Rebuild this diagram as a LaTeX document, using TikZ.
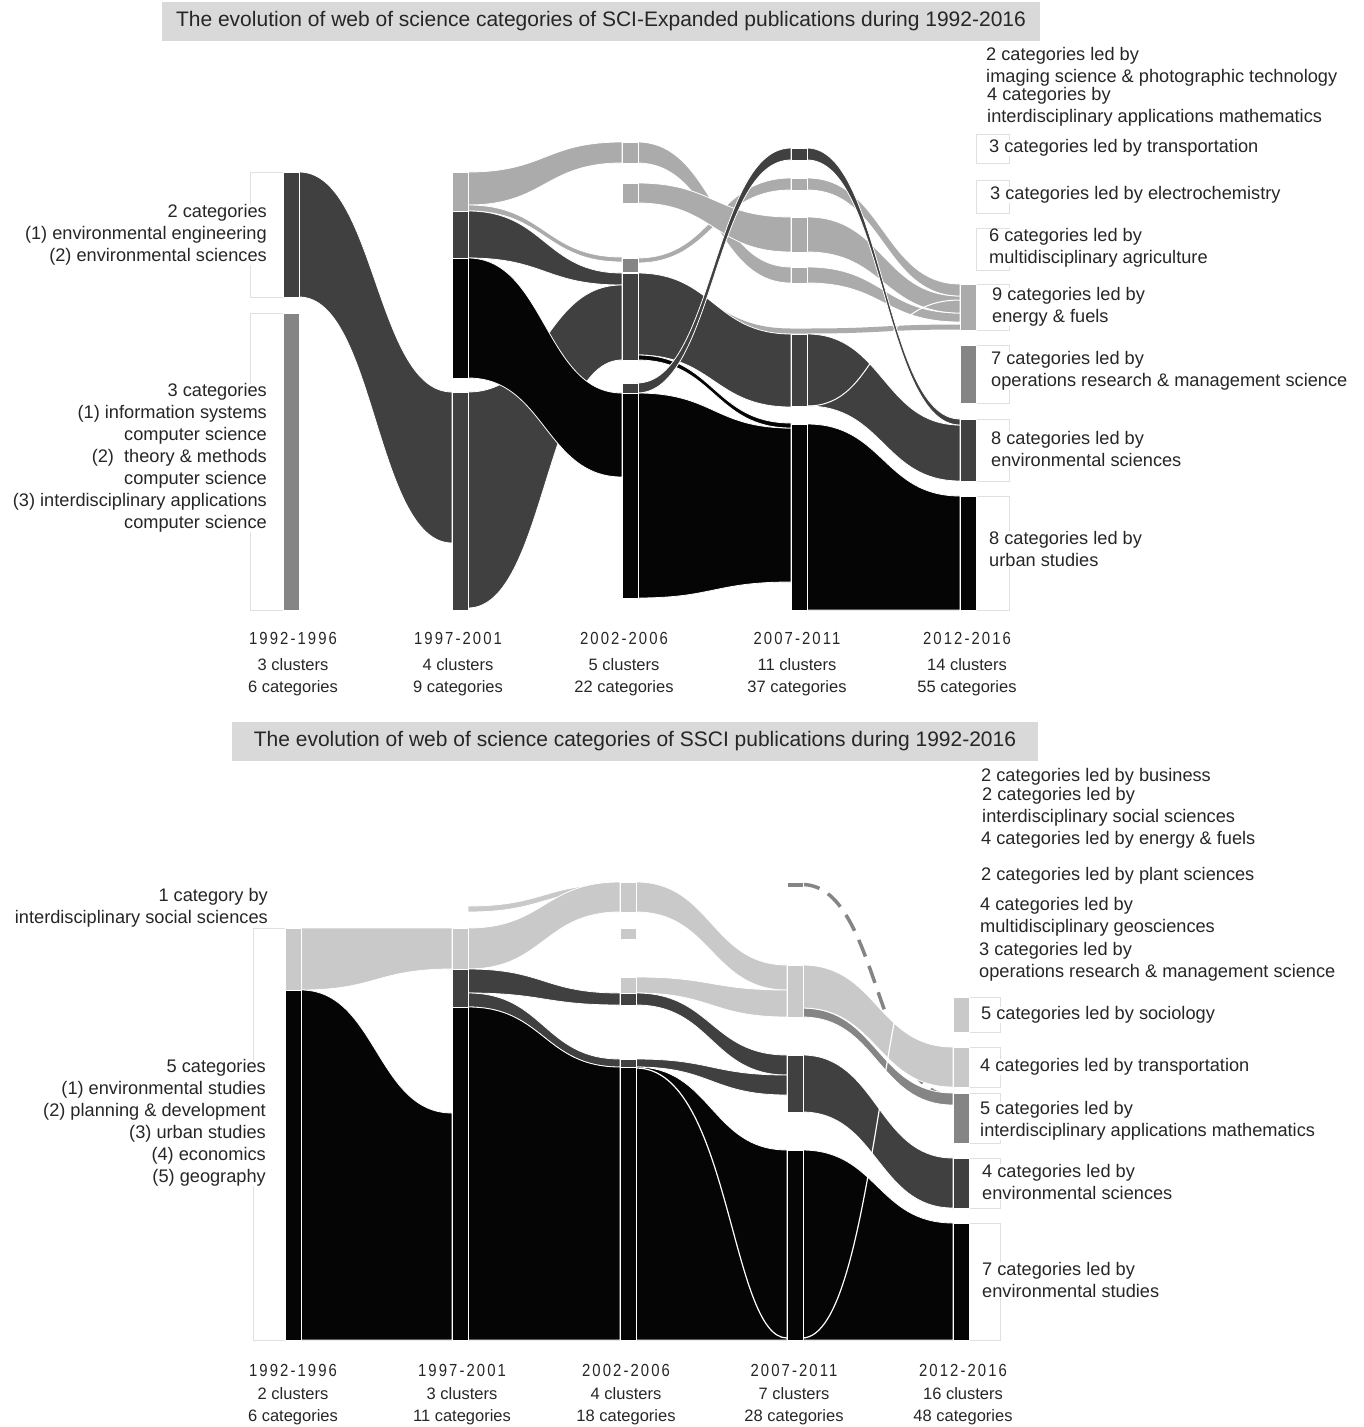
\documentclass[tikz,border=0pt]{standalone}
\usepackage{fontspec}
\setmainfont{Liberation Sans}
\newfontfamily\yearfont[FakeStretch=0.85, LetterSpace=12]{Liberation Sans}

\definecolor{flowblack}{HTML}{050505}
\definecolor{flowdark}{HTML}{404040}
\definecolor{flowmid}{HTML}{858585}
\definecolor{flowlight}{HTML}{ABABAB}
\definecolor{flowpale}{HTML}{C9C9C9}
\definecolor{titlegray}{HTML}{D9D9D9}

\newcommand{\lblsize}{\fontsize{18.2}{22}\selectfont}
\newcommand{\titlesize}{\fontsize{21}{24}\selectfont}
\newcommand{\sumsize}{\fontsize{16.5}{22}\selectfont}
\newcommand{\yearsize}{\yearfont\fontsize{17.5}{20}\selectfont}

% band between two columns: colour, x1, top1, bottom1, x2, top2, bottom2
\newcommand{\flow}[7]{%
  \filldraw[flowedge, fill=#1] (#2,#3) .. controls ({(#2+#5)/2},#3) and ({(#2+#5)/2},#6) .. (#5,#6)
    -- (#5,#7) .. controls ({(#2+#5)/2},#7) and ({(#2+#5)/2},#4) .. (#2,#4) -- cycle;}
% cluster bar: colour, x, top, bottom
\newcommand{\clusterbar}[4]{\filldraw[baredge, fill=#1] (#2,#3) rectangle ({#2+16},#4);}

\begin{document}
\begin{tikzpicture}[x=1pt, y=-1pt,
  flowedge/.style={draw=white, line width=0.8pt},
  baredge/.style={draw=white, line width=0.9pt},
  labelbox/.style={draw=black!12, line width=0.6pt},
  lbl/.style={font=\lblsize, inner sep=0pt, fill=white, text=black!85},
  leftlbl/.style={lbl, anchor=east, align=right},
  rightlbl/.style={lbl, anchor=west, align=left},
  yearlbl/.style={font=\yearsize, inner sep=0pt, text=black!85},
  sumlbl/.style={font=\sumsize, inner sep=0pt, align=center, text=black!85},
  title/.style={fill=titlegray, minimum height=39pt, inner sep=0pt, font=\titlesize, text=black!85}]

\useasboundingbox (0,0) rectangle (1364,1427);

% ---------------- SCI-Expanded ----------------
\node[title, minimum width=878pt] (sciTitle) at (601,21)
  {The evolution of web of science categories of SCI-Expanded publications during 1992-2016};

% label boxes
\draw[labelbox] (283,172) -| (250,297) -- (283,297);
\draw[labelbox] (283,313) -| (250,610) -- (283,610);
\foreach \t/\b in {134/163, 180/213, 228/270, 284/330, 345/403, 419/481, 496/610}
  \draw[labelbox] (976,\t) rectangle (1009,\b);

% 1992-1996 -> 1997-2001
\flow{flowdark}{299}{172}{297}{452}{392}{543}
% 1997-2001 -> 2002-2006
\flow{flowlight}{468}{172}{205}{622}{142}{163}
\flow{flowlight}{468}{205}{211}{622}{257}{262}
\flow{flowdark}{468}{211}{258}{622}{273}{285}
\flow{flowdark}{468}{392}{608}{622}{285}{360}
\flow{flowblack}{468}{258}{378}{622}{393}{477}
% 2002-2006 -> 2007-2011
\draw[flowlight, line width=5pt] (637,285) .. controls (714,285) and (714,331) .. (791,331)
  -- (807,331) .. controls (883,331) and (883,327) .. (960,327);
\flow{flowlight}{637}{258}{263}{791}{178}{190}
\flow{flowlight}{637}{142}{163}{791}{267}{283}
\flow{flowlight}{637}{183}{203}{791}{217}{252}
\flow{flowdark}{637}{273}{355}{791}{334}{407}
\flow{flowblack}{637}{393}{598}{791}{428}{582}
\flow{flowblack}{637}{355}{360}{791}{423}{428}
\flow{flowdark}{637}{383}{393}{791}{148}{160}
% 2007-2011 -> 2012-2016
\flow{flowlight}{807}{267}{283}{960}{313}{322}
\flow{flowlight}{807}{217}{252}{960}{296}{313}
\flow{flowlight}{807}{178}{190}{960}{284}{296}
\flow{flowdark}{807}{334}{406}{960}{425}{481}
\draw[white, line width=1pt] (807,406) .. controls (880,406) and (870,300) .. (960,300);
\flow{flowblack}{807}{424}{610}{960}{496}{610}
\flow{flowdark}{807}{148}{160}{960}{419}{425}

% cluster bars
\foreach \c/\x/\t/\b in {flowdark/283/172/297, flowmid/283/313/610,
    flowlight/452/172/211, flowdark/452/211/258, flowblack/452/258/378, flowdark/452/392/610,
    flowlight/622/142/163, flowlight/622/183/203, flowmid/622/258/272, flowdark/622/273/360,
    flowdark/622/383/393, flowblack/622/393/598,
    flowdark/791/148/160, flowlight/791/178/190, flowlight/791/217/252, flowlight/791/267/283,
    flowdark/791/334/406, flowblack/791/424/610,
    flowlight/960/284/330, flowmid/960/345/403, flowdark/960/419/481, flowblack/960/496/610}
  \clusterbar{\c}{\x}{\t}{\b};

% cluster labels
\node[leftlbl] (sciEnv) at (267,235)
  {2 categories\\(1) environmental engineering\\(2) environmental sciences};
\node[leftlbl] (sciComp) at (267,458)
  {3 categories\\(1) information systems\\computer science\\(2)\ \ theory \& methods\\computer science\\(3) interdisciplinary applications\\computer science};
\node[rightlbl] (sciImg) at (986,67) {2 categories led by\\imaging science \& photographic technology};
\node[rightlbl] (sciMath) at (987,107) {4 categories by\\interdisciplinary applications mathematics};
\node[rightlbl] (sciTrans) at (989,148) {3 categories led by transportation};
\node[rightlbl] (sciElec) at (990,195) {3 categories led by electrochemistry};
\node[rightlbl] (sciAgri) at (989,248) {6 categories led by\\multidisciplinary agriculture};
\node[rightlbl] (sciEnergy) at (992,307) {9 categories led by\\energy \& fuels};
\node[rightlbl] (sciOper) at (991,371) {7 categories led by\\operations research \& management science};
\node[rightlbl] (sciEnvSci) at (991,449) {8 categories led by\\environmental sciences};
\node[rightlbl] (sciUrban) at (989,549) {8 categories led by\\urban studies};

% periods
\foreach \x/\yr/\cl/\ct [count=\i] in {293/1992-1996/3/6, 458/1997-2001/4/9, 624/2002-2006/5/22,
    797/2007-2011/11/37, 967/2012-2016/14/55} {
  \node[yearlbl] (sciYear\i) at (\x,638) {\yr};
  \node[sumlbl] (sciSum\i) at (\x,677) {\cl\ clusters\\\ct\ categories};
}

% ---------------- SSCI ----------------
\node[title, minimum width=806pt] (ssciTitle) at (635,741)
  {The evolution of web of science categories of SSCI publications during 1992-2016};

\draw[labelbox] (285,928) -| (253,1340) -- (285,1340);
\foreach \t/\b in {997/1032, 1047/1087, 1093/1143, 1158/1208, 1223/1340}
  \draw[labelbox] (968,\t) rectangle (1000,\b);

% 1992-1996 -> 1997-2001
\flow{flowpale}{301}{928}{990}{452}{928}{969}
\flow{flowblack}{301}{990}{1340}{452}{1113}{1340}
% 1997-2001 -> 2002-2006
\flow{flowpale}{468}{906}{912}{620}{884}{890}
\flow{flowpale}{468}{928}{969}{620}{882}{912}
\flow{flowdark}{468}{969}{993}{620}{993}{1005}
\flow{flowdark}{468}{993}{1007}{620}{1059}{1067}
\flow{flowblack}{468}{1007}{1340}{620}{1067}{1340}
% 2002-2006 -> 2007-2011
\flow{flowpale}{636}{882}{912}{787}{965}{990}
\flow{flowpale}{636}{977}{993}{787}{990}{1017}
\flow{flowdark}{636}{993}{1005}{787}{1055}{1075}
\flow{flowdark}{636}{1059}{1067}{787}{1075}{1095}
\flow{flowblack}{636}{1067}{1340}{787}{1150}{1340}
\draw[white, line width=1.2pt] (636,1068) .. controls (730,1068) and (730,1338) .. (787,1338);
% 2007-2011 -> 2012-2016
\draw[flowmid, line width=3.5pt, dash pattern=on 18pt off 10pt] (802,884.5) .. controls (880,884.5) and (875,1096) .. (953,1096);
\flow{flowmid}{802}{1008}{1017}{953}{1093}{1105}
\flow{flowpale}{802}{965}{1008}{953}{1047}{1087}
\flow{flowdark}{802}{1055}{1112}{953}{1158}{1208}
\flow{flowblack}{802}{1150}{1340}{953}{1223}{1340}
\draw[white, line width=1.2pt] (802,1338) .. controls (880,1338) and (880,880) .. (953,880);

% cluster bars
\foreach \c/\x/\t/\b in {flowpale/285/928/990, flowblack/285/990/1340,
    flowpale/452/928/969, flowdark/452/969/1007, flowblack/452/1007/1340,
    flowpale/620/882/912, flowpale/620/928/939, flowpale/620/977/993, flowdark/620/993/1005,
    flowdark/620/1059/1067, flowblack/620/1067/1340,
    flowmid/787/882/887, flowpale/787/965/1017, flowdark/787/1055/1112, flowblack/787/1150/1340,
    flowpale/953/997/1032, flowpale/953/1047/1087, flowmid/953/1093/1143,
    flowdark/953/1158/1208, flowblack/953/1223/1340}
  \clusterbar{\c}{\x}{\t}{\b};

% cluster labels
\node[leftlbl] (ssciSoc) at (268,908) {1 category by\\interdisciplinary social sciences};
\node[leftlbl] (ssciUrban) at (266,1123)
  {5 categories\\(1) environmental studies\\(2) planning \& development\\(3) urban studies\\(4) economics\\(5) geography};
\node[rightlbl] (ssciBus) at (981,777) {2 categories led by business};
\node[rightlbl] (ssciSocSci) at (982,807) {2 categories led by\\interdisciplinary social sciences};
\node[rightlbl] (ssciEnergy) at (981,840) {4 categories led by energy \& fuels};
\node[rightlbl] (ssciPlant) at (981,876) {2 categories led by plant sciences};
\node[rightlbl] (ssciGeo) at (980,917) {4 categories led by\\multidisciplinary geosciences};
\node[rightlbl] (ssciOper) at (979,962) {3 categories led by\\operations research \& management science};
\node[rightlbl] (ssciSocio) at (981,1015) {5 categories led by sociology};
\node[rightlbl] (ssciTrans) at (980,1067) {4 categories led by transportation};
\node[rightlbl] (ssciMath) at (980,1121) {5 categories led by\\interdisciplinary applications mathematics};
\node[rightlbl] (ssciEnvSci) at (982,1182) {4 categories led by\\environmental sciences};
\node[rightlbl] (ssciEnvStud) at (982,1280) {7 categories led by\\environmental studies};

% periods
\foreach \x/\yr/\cl/\ct [count=\i] in {293/1992-1996/2/6, 462/1997-2001/3/11, 626/2002-2006/4/18,
    794/2007-2011/7/28, 963/2012-2016/16/48} {
  \node[yearlbl] (ssciYear\i) at (\x,1370) {\yr};
  \node[sumlbl] (ssciSum\i) at (\x,1406) {\cl\ clusters\\\ct\ categories};
}
\end{tikzpicture}
\end{document}
